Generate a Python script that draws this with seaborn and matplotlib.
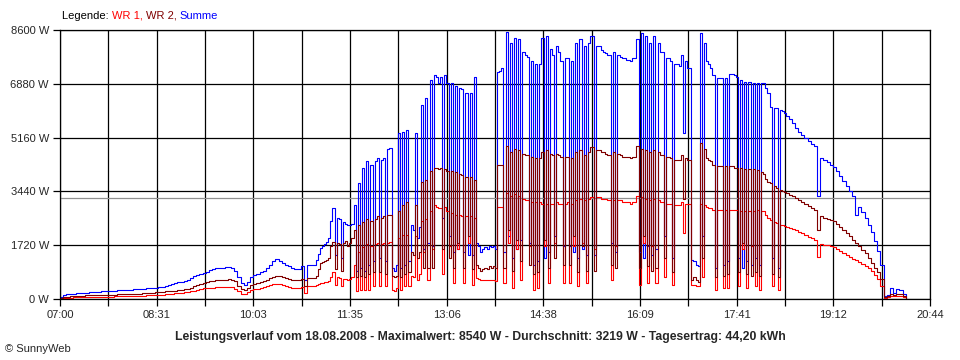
"""
SunnyWeb Tagesverlauf 18.08.2008 - Leistung WR 1, WR 2 und Summe
"""
import pandas as pd
import matplotlib
matplotlib.use("Agg")
import matplotlib.pyplot as plt
import seaborn as sns

sns.set_style("ticks")
plt.rcParams["font.family"] = ["Liberation Sans", "DejaVu Sans"]

# ---------------------------------------------------------------
# Data (W). 07:00-10:57 every 3 min, 11:00-18:28 every 2 min,
# 18:30-20:21 every 3 min
# ---------------------------------------------------------------
summe = [
    # 07:00
    75, 120, 150, 160, 170, 180, 185, 190, 200, 210, 215, 225, 230, 240, 245, 255, 265, 270, 275, 280,
    # 08:00
    285, 290, 300, 305, 315, 320, 330, 340, 345, 350, 360, 370, 390, 420, 450, 470, 500, 530, 550, 580,
    # 09:00
    620, 660, 720, 760, 800, 830, 870, 920, 950, 990, 1000, 980, 1010, 1030, 1000, 900, 700, 520, 450, 550,
    # 10:00
    710, 760, 800, 850, 900, 1000, 1100, 1200, 1270, 1220, 1150, 1100, 1060, 1000, 960, 950, 1050, 620, 1100, 1080,
    # 11:00 (2 min)
    1100, 1250, 1450, 1620, 1680, 1750, 1830, 1950, 2500, 2900, 1400, 2600, 2550, 1300, 2450,
    2400, 2370, 2380, 2400, 3000, 900, 3700, 1000, 4180, 900, 4400, 1100, 4300, 1200, 4400,
    # 12:00
    4500, 1300, 4450, 4500, 1200, 4800, 4820, 1000, 900, 1100, 5300, 1000, 5350, 1100, 5400,
    1200, 2370, 2200, 5300, 1940, 2300, 6200, 1600, 6420, 1800, 7000, 1700, 7160, 7100, 6900,
    # 13:00
    7100, 2600, 7160, 6900, 2000, 6900, 1500, 6800, 1600, 6750, 6700, 1500, 6600, 1400, 6600,
    1400, 7100, 1800, 1700, 1500, 1600, 1650, 1600, 1700, 1650, 1700, 1600, 7250, 7300, 7400,
    # 14:00
    1500, 8540, 2000, 8200, 1300, 8350, 1600, 8300, 1900, 7900, 7800, 7750, 1800, 7600, 1100,
    7500, 1200, 7500, 8350, 1300, 8400, 1500, 8000, 7800, 2000, 8100, 7900, 7600, 1700, 7700,
    # 15:00
    7700, 1700, 7600, 1500, 8200, 1300, 8300, 1600, 8100, 1400, 8200, 8400, 8400, 1400, 8100,
    8100, 7950, 7900, 7850, 7800, 7800, 1800, 7900, 1500, 7800, 7750, 7700, 7700, 7650, 7650,
    # 16:00
    7600, 7700, 7700, 8300, 1500, 8500, 1300, 8400, 1700, 8200, 1400, 8400, 1600, 8200, 7900,
    7900, 2000, 7700, 7700, 7600, 1300, 7500, 7500, 7450, 7800, 5300, 7600, 7400, 7400, 1250,
    # 17:00
    1200, 1100, 1050, 8500, 2000, 8200, 7600, 7500, 7400, 7150, 1000, 7070, 7070, 7070, 1100,
    7070, 1200, 7200, 7200, 7150, 7100, 1300, 7000, 1000, 6950, 1200, 6950, 1100, 6900, 1300,
    # 18:00
    6900, 1100, 6900, 6900, 6750, 6600, 6150, 1300, 6100, 6100, 1000, 6050, 6000, 5950, 5850,
    # 18:30 (3 min)
    5750, 5620, 5480, 5330, 5240, 5150, 5050, 4960, 4880, 3300,
    # 19:00
    4500, 4450, 4380, 4300, 4220, 4080, 3930, 3780, 3620, 3450, 3300, 2700, 2950, 2780, 2600, 2380, 2150, 1850, 1550, 1100,
    # 20:00
    100, 120, 340, 180, 310, 280, 150, 0,
]

wr2 = [
    # 07:00
    40, 60, 75, 85, 95, 100, 105, 110, 115, 120, 120, 125, 125, 130, 130, 130, 135, 140, 145, 150,
    # 08:00
    150, 155, 160, 165, 170, 175, 180, 190, 195, 200, 210, 215, 225, 240, 250, 260, 270, 280, 290, 305,
    # 09:00
    320, 350, 400, 440, 480, 520, 540, 570, 590, 610, 610, 600, 620, 640, 620, 560, 430, 320, 290, 360,
    # 10:00
    450, 480, 510, 540, 580, 620, 670, 710, 735, 720, 690, 660, 640, 620, 610, 610, 640, 400, 660, 680,
    # 11:00 (2 min)
    680, 740, 950, 1150, 1180, 1220, 1250, 1310, 1700, 1820, 950, 1800, 1750, 900, 1800,
    1850, 1700, 1800, 1950, 2200, 700, 2350, 750, 2450, 700, 2550, 800, 2500, 850, 2550,
    # 12:00
    2650, 850, 2600, 2650, 800, 2700, 2680, 750, 700, 750, 2800, 700, 3000, 800, 3100,
    850, 1500, 1400, 3000, 1300, 1500, 3750, 1000, 3800, 1000, 4100, 1000, 4190, 4200, 4150,
    # 13:00
    4200, 1600, 4150, 4100, 1300, 4100, 1000, 4050, 1800, 4000, 3950, 1000, 3900, 2000, 3900,
    950, 3800, 1100, 1000, 900, 950, 1000, 950, 1050, 1000, 1050, 1000, 4280, 4290, 4300,
    # 14:00
    1000, 4900, 2200, 4700, 900, 4800, 1900, 4750, 1200, 4650, 4600, 4600, 1100, 4550, 800,
    4500, 850, 4500, 4700, 1900, 4750, 1000, 4650, 4600, 1300, 4650, 4600, 4550, 1100, 4550,
    # 15:00
    4550, 1100, 4500, 2000, 4700, 850, 4750, 1700, 4600, 900, 4700, 4850, 4850, 900, 4750,
    4750, 4700, 4700, 4650, 4600, 4600, 1100, 4700, 1000, 4650, 4600, 4550, 4550, 4550, 4550,
    # 16:00
    4500, 4550, 4550, 4900, 1000, 4800, 2000, 4750, 1050, 4700, 900, 4750, 1000, 4700, 4600,
    4600, 1300, 4550, 4550, 4500, 850, 4450, 4450, 4450, 4600, 3200, 4500, 4450, 4450, 600,
    # 17:00
    700, 600, 550, 5000, 1300, 4800, 4500, 4450, 4400, 4300, 700, 4250, 4250, 4250, 750,
    4250, 800, 4250, 4250, 4200, 4200, 850, 4200, 1800, 4150, 800, 4150, 750, 4150, 850,
    # 18:00
    4120, 750, 4050, 4000, 3850, 3750, 3700, 800, 3600, 3550, 700, 3500, 3450, 3420, 3380,
    # 18:30 (3 min)
    3340, 3280, 3220, 3160, 3100, 3040, 2980, 2920, 2850, 2200,
    # 19:00
    2640, 2600, 2570, 2530, 2490, 2400, 2300, 2210, 2120, 2030, 1880, 1780, 1680, 1580, 1470, 1320, 1160, 1000, 850, 650,
    # 20:00
    60, 80, 170, 120, 170, 160, 90, 0,
]

wr1 = [
    # 07:00
    15, 30, 40, 45, 50, 50, 55, 60, 60, 65, 65, 70, 70, 70, 75, 75, 75, 80, 80, 85,
    # 08:00
    85, 90, 95, 100, 100, 105, 110, 115, 120, 125, 130, 135, 140, 150, 160, 170, 180, 190, 200, 210,
    # 09:00
    220, 240, 270, 290, 320, 340, 350, 360, 365, 370, 375, 370, 385, 395, 380, 330, 240, 170, 150, 210,
    # 10:00
    290, 310, 330, 360, 390, 420, 450, 470, 480, 470, 440, 410, 380, 360, 340, 340, 370, 200, 400, 420,
    # 11:00 (2 min)
    420, 440, 480, 510, 515, 530, 540, 560, 700, 870, 450, 700, 680, 430, 650,
    650, 600, 650, 700, 1100, 250, 1500, 300, 1650, 300, 1750, 300, 1700, 400, 1750,
    # 12:00
    1800, 420, 1750, 1800, 400, 1800, 1820, 300, 250, 350, 1950, 300, 2050, 400, 2050,
    400, 750, 700, 2000, 600, 800, 2500, 1500, 2550, 600, 2800, 1600, 3000, 2950, 2900,
    # 13:00
    2900, 800, 2950, 2800, 1700, 2750, 500, 2700, 1600, 2700, 2650, 500, 2650, 1800, 2650,
    450, 2600, 680, 650, 600, 620, 600, 610, 620, 600, 620, 560, 2940, 2950, 2950,
    # 14:00
    500, 3400, 1800, 3300, 350, 3350, 1600, 3300, 600, 3200, 3150, 3150, 1700, 3100, 300,
    3100, 350, 3100, 3050, 1700, 3050, 500, 3050, 3050, 1800, 3100, 3050, 3050, 500, 3050,
    # 15:00
    3100, 500, 3050, 1700, 3150, 400, 3200, 1800, 3150, 500, 3200, 3250, 3250, 1600, 3250,
    3250, 3200, 3200, 3200, 3150, 3150, 600, 3150, 1700, 3150, 3150, 3100, 3100, 3100, 3100,
    # 16:00
    3050, 3100, 3100, 3300, 450, 3250, 1800, 3200, 500, 3150, 1700, 3200, 500, 3150, 3100,
    3100, 700, 3050, 3050, 3050, 450, 3000, 3000, 3000, 3100, 2100, 3050, 3050, 3050, 450,
    # 17:00
    450, 400, 400, 3050, 700, 3000, 2950, 2920, 2900, 2850, 300, 2850, 2850, 2850, 350,
    2850, 350, 2850, 2850, 2850, 2850, 400, 2800, 1600, 2800, 350, 2800, 1700, 2800, 400,
    # 18:00
    2840, 300, 2820, 2800, 2700, 2600, 2530, 400, 2450, 2420, 300, 2380, 2350, 2330, 2310,
    # 18:30 (3 min)
    2280, 2240, 2190, 2140, 2100, 2050, 1990, 1940, 1880, 1350,
    # 19:00
    1770, 1740, 1720, 1690, 1660, 1610, 1550, 1480, 1410, 1350, 1290, 1240, 1190, 1120, 1060, 990, 900, 780, 640, 400,
    # 20:00
    40, 50, 110, 80, 110, 90, 50, 0,
]

y_ticks = [0, 1720, 3440, 5160, 6880, 8600]
y_labels = ["0 W", "1720 W", "3440 W", "5160 W", "6880 W", "8600 W"]
x_labels = ["07:00", "08:31", "10:03", "11:35", "13:06", "14:38", "16:09", "17:41", "19:12", "20:44"]
durchschnitt = 3219

COLORS = {"WR 1": "#FF0000", "WR 2": "#800000", "Summe": "#0000FF"}

zeit = (pd.date_range("2008-08-18 07:00", "2008-08-18 10:57", freq="3min")
        .append(pd.date_range("2008-08-18 11:00", "2008-08-18 18:28", freq="2min"))
        .append(pd.date_range("2008-08-18 18:30", "2008-08-18 20:21", freq="3min")))
assert len(zeit) == len(summe) == len(wr1) == len(wr2)

df = pd.DataFrame({"zeit": zeit, "WR 1": wr1, "WR 2": wr2, "Summe": summe})
long = df.melt(id_vars="zeit", var_name="serie", value_name="leistung")

# ---------------------------------------------------------------
# Plot
# ---------------------------------------------------------------
fig = plt.figure(figsize=(9.6, 3.6), dpi=100)
ax = fig.add_axes([60 / 960, 61 / 360, 870 / 960, 269 / 360])

start = pd.Timestamp("2008-08-18 07:00")
end = pd.Timestamp("2008-08-18 20:44")
ticks = pd.date_range(start, end, periods=19)

ax.set_xlim(start, end)
ax.set_ylim(0, 8600)
ax.set_xticks(ticks)
ax.set_xticklabels([x_labels[i // 2] if i % 2 == 0 else "" for i in range(19)])
ax.set_yticks(y_ticks)
ax.set_yticklabels(y_labels)
ax.grid(True, color="black", linewidth=0.9)
ax.set_axisbelow(True)
ax.axhline(durchschnitt, color="#909090", linewidth=0.9, zorder=1.5)

# Summe at the back, WR 2 on top
sns.lineplot(data=long, x="zeit", y="leistung", hue="serie",
             hue_order=["Summe", "WR 1", "WR 2"], palette=COLORS,
             estimator=None, drawstyle="steps-post", linewidth=0.8,
             legend=False, ax=ax)

ax.set_xlabel("")
ax.set_ylabel("")
for s in ax.spines.values():
    s.set_color("black")
    s.set_linewidth(0.9)
ax.tick_params(axis="both", direction="out", length=5, width=0.9,
               color="black", labelsize=8, pad=3)

fig.text(480 / 960, 1 - 337 / 360,
         "Leistungsverlauf vom 18.08.2008 - Maximalwert: 8540 W - "
         "Durchschnitt: 3219 W - Tagesertrag: 44,20 kWh",
         ha="center", va="center", fontsize=8.8, fontweight="bold")
fig.text(5 / 960, 1 - 349 / 360, "\u00a9 SunnyWeb", ha="left", va="center", fontsize=8)

# colored legend line at the top
renderer = fig.canvas.get_renderer()
x = 62 / 960
for txt, col in [("Legende: ", "black"), ("WR 1, ", COLORS["WR 1"]),
                 ("WR 2, ", COLORS["WR 2"]), ("Summe", COLORS["Summe"])]:
    t = fig.text(x, 1 - 16 / 360, txt, color=col, fontsize=8, ha="left", va="center")
    bb = t.get_window_extent(renderer)
    x = bb.x1 / fig.bbox.width

fig.savefig("out.png", dpi=100)
plt.close(fig)
